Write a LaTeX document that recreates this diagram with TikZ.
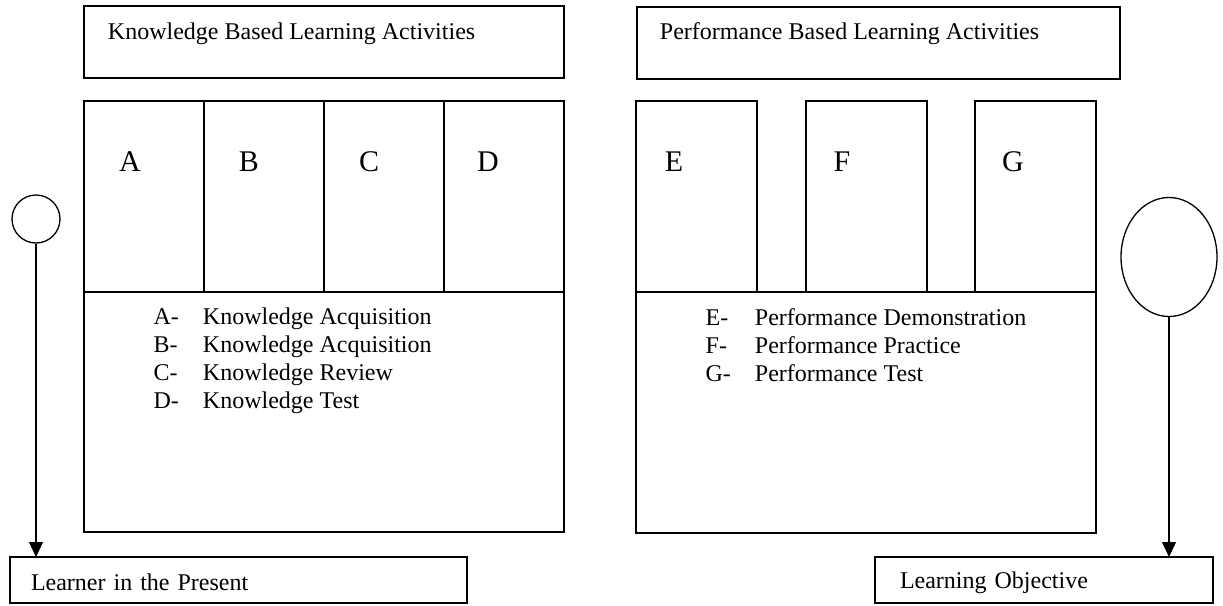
\documentclass[tikz,border=0pt]{standalone}
\usepackage{fontspec}
\setmainfont{Liberation Serif}
\usetikzlibrary{positioning,shapes.geometric,arrows.meta}

\begin{document}
\begin{tikzpicture}[
      x=1pt, y=-1pt,
      >={Triangle[length=15pt,width=14pt]},
      line width=1.3pt,
      every node/.style={font=\fontsize{24}{28}\selectfont},
      frame/.style={draw, rectangle, inner sep=0pt, outer sep=0pt, anchor=north west},
      col/.style={frame, minimum width=121pt, minimum height=191pt},
      letter/.style={font=\fontsize{30}{34}\selectfont},
      endbox/.style={frame, minimum height=46pt, text height=22pt, align=left},
    ]
      \useasboundingbox (0,0) rectangle (1223,605);

      % headings
      \node[frame, minimum width=480pt, minimum height=72pt] (kbla) at (84,6) {};
      \node[anchor=west] at ([xshift=20pt,yshift=-28pt]kbla.north west) {Knowledge Based Learning Activities};
      \node[frame, minimum width=483pt, minimum height=72pt] (pbla) at (637,7) {};
      \node[anchor=west] at ([xshift=19pt,yshift=-27pt]pbla.north west) {Performance Based Learning Activities};

      % knowledge columns
      \node[col, minimum width=120pt] (colA) at (84,101) {};
      \node[col, minimum width=120pt, right = 0pt of colA] (colB) {};
      \node[col, minimum width=120pt, right = 0pt of colB] (colC) {};
      \node[col, minimum width=120pt, right = 0pt of colC] (colD) {};
      \node[letter] at ([xshift=46pt,yshift=-61pt]colA.north west) {A};
      \node[letter] at ([xshift=45pt,yshift=-61pt]colB.north west) {B};
      \node[letter] at ([xshift=45pt,yshift=-61pt]colC.north west) {C};
      \node[letter] at ([xshift=44pt,yshift=-61pt]colD.north west) {D};
      \node[frame, minimum width=480pt, minimum height=240pt] (klow) at (colA.south west) {};
      \node[anchor=north west, inner sep=0pt] (klist) at ([xshift=69pt,yshift=-12pt]klow.north west) {%
        \begin{tabular}{@{}l@{\hspace{24pt}}l@{}}
          A- & Knowledge Acquisition\\
          B- & Knowledge Acquisition\\
          C- & Knowledge Review\\
          D- & Knowledge Test
        \end{tabular}};

      % performance columns
      \node[col] (colE) at (636,101) {};
      \node[col, right = 49pt of colE] (colF) {};
      \node[col, right = 48pt of colF] (colG) {};
      \node[letter] at ([xshift=38pt,yshift=-61pt]colE.north west) {E};
      \node[letter] at ([xshift=36pt,yshift=-61pt]colF.north west) {F};
      \node[letter] at ([xshift=38pt,yshift=-61pt]colG.north west) {G};
      \node[frame, minimum width=460pt, minimum height=241pt] (plow) at (colE.south west) {};
      \node[anchor=north west, inner sep=0pt] (plist) at ([xshift=69pt,yshift=-13pt]plow.north west) {%
        \begin{tabular}{@{}l@{\hspace{24pt}}l@{}}
          E- & Performance Demonstration\\
          F- & Performance Practice\\
          G- & Performance Test
        \end{tabular}};

      % start and goal
      \node[circle, draw, minimum size=48pt, inner sep=0pt] (now) at (36,219) {};
      \node[ellipse, draw, minimum width=96pt, minimum height=119pt, inner sep=0pt] (goal) at (1169,257) {};
      \node[endbox, minimum width=457pt, inner xsep=21pt, text width=415pt] (learner) at (10,557) {Learner in the Present};
      \node[endbox, minimum width=338pt, inner xsep=25pt, text width=288pt] (objective) at (875,557) {Learning Objective};

      \draw[->] (now.south) -- (now.south |- learner.north);
      \draw[->] (goal.south) -- (goal.south |- objective.north);
\end{tikzpicture}
\end{document}
